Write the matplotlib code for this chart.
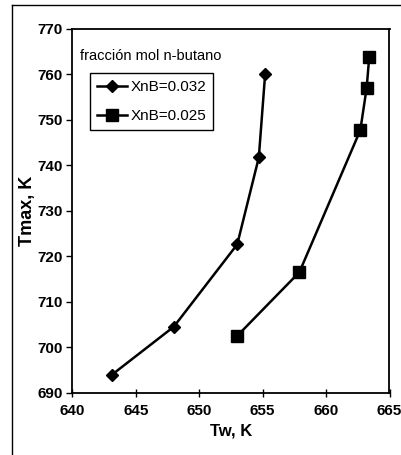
import matplotlib
matplotlib.use("Agg")
import matplotlib.pyplot as plt
from matplotlib.lines import Line2D

tw_032 = [643.1, 648.0, 653.0, 654.7, 655.2]
tmax_032 = [693.9, 704.5, 722.6, 741.7, 760.1]
tw_025 = [653.0, 657.9, 662.7, 663.2, 663.4]
tmax_025 = [702.5, 716.5, 747.7, 757.0, 763.7]
labels = ["XnB=0.032", "XnB=0.025"]
xticks = [640, 645, 650, 655, 660, 665]
yticks = [690, 700, 710, 720, 730, 740, 750, 760, 770]

plt.rcParams['font.family'] = ['Liberation Sans', 'DejaVu Sans']

W, H = 402, 455
fig = plt.figure(figsize=(W / 100, H / 100), dpi=100)
ax = fig.add_axes([72.3 / W, 1 - 392.7 / H, (389.5 - 72.3) / W, (392.7 - 28.7) / H])

ax.plot(tw_032, tmax_032, color='black', lw=1.8, marker='D', ms=6.5, label=labels[0])
ax.plot(tw_025, tmax_025, color='black', lw=1.8, marker='s', ms=8, label=labels[1])

ax.set_xlim(640, 665)
ax.set_ylim(690, 770)
ax.set_xticks(xticks)
ax.set_yticks(yticks)
ax.tick_params(axis='both', direction='out', length=4, width=1, labelsize=11, pad=3)
ax.tick_params(axis='x', direction='inout', length=6, pad=5)
for lab in ax.get_xticklabels() + ax.get_yticklabels():
    lab.set_fontweight('bold')
    lab.set_fontsize(11)
for s in ax.spines.values():
    s.set_linewidth(1.3)

ax.set_xlabel("Tw, K", fontsize=12, fontweight='bold', labelpad=4)
ax.set_ylabel("Tmax, K", fontsize=13, fontweight='bold', labelpad=1)

ax.text(0.025, 0.925, "fracción mol n-butano", transform=ax.transAxes,
        fontsize=10.5, va='center', ha='left')
leg = ax.legend(loc='upper left', bbox_to_anchor=(0.056, 0.878),
                prop={'size': 11},
                frameon=True, fancybox=False, edgecolor='black', framealpha=1,
                handlelength=2.0, handletextpad=0.2, borderpad=0.45, labelspacing=1.0,
                borderaxespad=0)
leg.get_frame().set_linewidth(1.0)

fig.add_artist(Line2D([12 / W, 12 / W], [0, 1 - 5 / H], transform=fig.transFigure, color='black', lw=1))
fig.add_artist(Line2D([12 / W, 400 / W], [1 - 5 / H, 1 - 5 / H], transform=fig.transFigure, color='black', lw=1))

fig.savefig("out.png", dpi=100)
